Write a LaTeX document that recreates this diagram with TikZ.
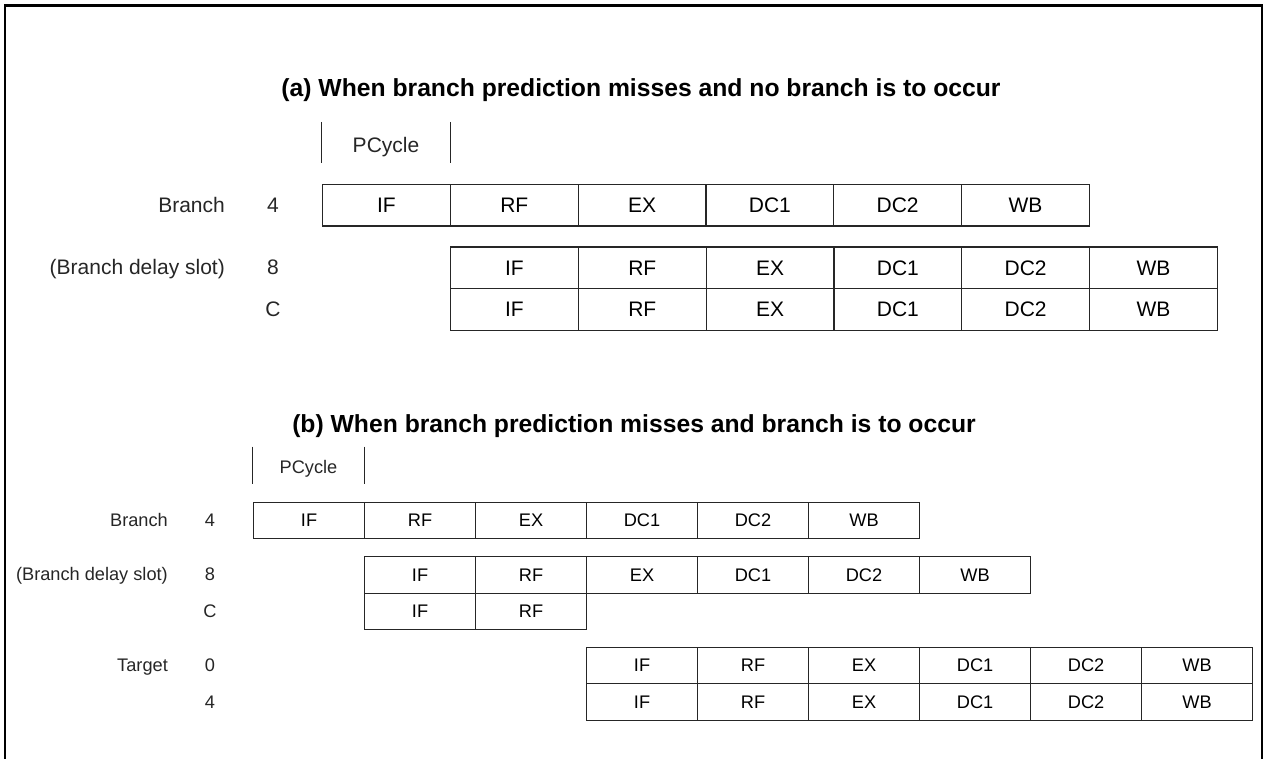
\documentclass[tikz,border=0pt]{standalone}
\usepackage{fontspec}
\setmainfont{Liberation Sans}
\begin{document}
\begin{tikzpicture}[x=1pt,y=-1pt,
  fA/.style={font=\fontsize{21}{25}\selectfont},
  fB/.style={font=\fontsize{18.2}{22}\selectfont},
  cellA/.style={fA,draw=black!85,line width=1.1pt,minimum width=127.8pt,minimum height=41.5pt,inner sep=0pt,anchor=north west},
  cellB/.style={fB,draw=black!85,line width=1.1pt,minimum width=111pt,minimum height=36.5pt,inner sep=0pt,anchor=north west},
  labA/.style={fA,inner sep=0pt,text=black!85},
  labB/.style={fB,inner sep=0pt,text=black!85},
  span/.style={inner sep=0pt,draw=none},
  title/.style={font=\bfseries\fontsize{24.7}{28}\selectfont,inner sep=0pt,anchor=base},
  tick/.style={draw=black!85,line width=1.1pt}
]
\useasboundingbox (0,0) rectangle (1265,759);
\draw[line width=2.2pt] (5,5.5) rectangle (1262,775);

% ---------- (a) ----------
\node[title] (ta) at (641,97) {(a) When branch prediction misses and no branch is to occur};

\node[span,minimum width=127.8pt,minimum height=41pt] (pcA) at (386,142.5) {};
\draw[tick] (pcA.north west) -- (pcA.south west);
\draw[tick] (pcA.north east) -- (pcA.south east);
\node[labA,anchor=base] (pcAt) at (386,152.5) {PCycle};

\foreach \t [count=\i from 0] in {IF,RF,EX,DC1,DC2,WB}
  \node[cellA] (a1c\i) at (322+127.8*\i,184) {\t};
\foreach \t [count=\i from 0] in {IF,RF,EX,DC1,DC2,WB}
  \node[cellA] (a2c\i) at (450+127.8*\i,246.5) {\t};
\foreach \t [count=\i from 0] in {IF,RF,EX,DC1,DC2,WB}
  \node[cellA] (a3c\i) at (450+127.8*\i,288) {\t};

\node[labA,anchor=base east] (la1) at (225,212.2) {Branch};
\node[labA,anchor=base] (na1) at (273,212.2) {4};
\node[labA,anchor=base east] (la2) at (225,274.5) {(Branch delay slot)};
\node[labA,anchor=base] (na2) at (273,274.5) {8};
\node[labA,anchor=base] (na3) at (273,316) {C};

% ---------- (b) ----------
\node[title] (tb) at (634,432) {(b) When branch prediction misses and branch is to occur};

\node[span,minimum width=111pt,minimum height=36.6pt] (pcB) at (308.5,465) {};
\draw[tick] (pcB.north west) -- (pcB.south west);
\draw[tick] (pcB.north east) -- (pcB.south east);
\node[labB,anchor=base] (pcBt) at (308.5,473.5) {PCycle};

\foreach \t [count=\i from 0] in {IF,RF,EX,DC1,DC2,WB}
  \node[cellB] (b1c\i) at (253+111*\i,501.7) {\t};
\foreach \t [count=\i from 0] in {IF,RF,EX,DC1,DC2,WB}
  \node[cellB] (b2c\i) at (364+111*\i,556) {\t};
\foreach \t [count=\i from 0] in {IF,RF}
  \node[cellB] (b3c\i) at (364+111*\i,592.5) {\t};
\foreach \t [count=\i from 0] in {IF,RF,EX,DC1,DC2,WB}
  \node[cellB] (b4c\i) at (586+111*\i,646.7) {\t};
\foreach \t [count=\i from 0] in {IF,RF,EX,DC1,DC2,WB}
  \node[cellB] (b5c\i) at (586+111*\i,683.2) {\t};

\node[labB,anchor=base east] (lb1) at (168,526.3) {Branch};
\node[labB,anchor=base] (nb1) at (210,526.3) {4};
\node[labB,anchor=base east] (lb2) at (168,580.9) {(Branch delay slot)};
\node[labB,anchor=base] (nb2) at (210,580.9) {8};
\node[labB,anchor=base] (nb3) at (210,617.4) {C};
\node[labB,anchor=base east] (lb4) at (168,671.9) {Target};
\node[labB,anchor=base] (nb4) at (210,671.9) {0};
\node[labB,anchor=base] (nb5) at (210,708.4) {4};
\end{tikzpicture}
\end{document}
